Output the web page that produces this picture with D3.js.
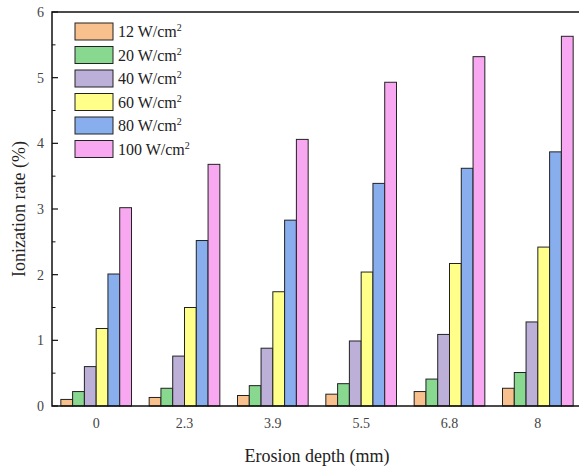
<!DOCTYPE html>
<html>
<head>
<meta charset="utf-8">
<script src="https://cdn.jsdelivr.net/npm/d3@7"></script>
<style>
  html, body { margin: 0; padding: 0; background: #fff; }
  svg { display: block; font-family: "Liberation Serif", "Times New Roman", serif; }
</style>
</head>
<body>
<div id="chart"></div>
<script>
// --- DATA ---
const depths = ["0", "2.3", "3.9", "5.5", "6.8", "8"];
const powers = ["12", "20", "40", "60", "80", "100"];
const rate12  = [0.10, 0.13, 0.16, 0.18, 0.22, 0.27];
const rate20  = [0.22, 0.27, 0.31, 0.34, 0.41, 0.51];
const rate40  = [0.60, 0.76, 0.88, 0.99, 1.09, 1.28];
const rate60  = [1.18, 1.50, 1.74, 2.04, 2.17, 2.42];
const rate80  = [2.01, 2.52, 2.83, 3.39, 3.62, 3.87];
const rate100 = [3.02, 3.68, 4.06, 4.93, 5.32, 5.63];
const yTicks = [0, 1, 2, 3, 4, 5, 6];
const colors = ["#f8c08c", "#88d890", "#bdb0d8", "#ffff8a", "#88aeee", "#f8a8f0"];

const series = [rate12, rate20, rate40, rate60, rate80, rate100];

// --- LAYOUT ---
const W = 579, H = 470;
const margin = {top: 12, right: -3, bottom: 64, left: 52};
const innerW = W - margin.left - margin.right;
const innerH = H - margin.top - margin.bottom;

const svg = d3.select("#chart").append("svg")
    .attr("width", W)
    .attr("height", H);

const g = svg.append("g")
    .attr("transform", `translate(${margin.left},${margin.top})`);

const x0 = d3.scaleBand()
    .domain(depths)
    .range([0, innerW])
    .paddingInner(0.2)
    .paddingOuter(0.1);

const x1 = d3.scaleBand()
    .domain(powers)
    .range([0, x0.bandwidth()]);

const y = d3.scaleLinear()
    .domain([0, 6])
    .range([innerH, 0]);

// --- BARS ---
const groups = g.selectAll(".grp")
    .data(depths)
    .join("g")
    .attr("class", "grp")
    .attr("transform", d => `translate(${x0(d)},0)`);

groups.selectAll("rect")
    .data((d, i) => powers.map((p, j) => ({p, v: series[j][i], c: colors[j]})))
    .join("rect")
    .attr("x", d => x1(d.p))
    .attr("y", d => y(d.v))
    .attr("width", x1.bandwidth())
    .attr("height", d => y(0) - y(d.v))
    .attr("fill", d => d.c)
    .attr("stroke", "#222")
    .attr("stroke-width", 1);

// --- AXES ---
// frame (left, top, bottom; the right side falls outside the picture)
g.append("path")
    .attr("d", `M${innerW},0H0V${innerH}H${innerW}`)
    .attr("fill", "none")
    .attr("stroke", "#111")
    .attr("stroke-width", 1.5);

const yAxis = g.append("g")
    .call(d3.axisLeft(y).tickValues(yTicks).tickSize(0).tickPadding(8).tickFormat(d3.format("d")));
yAxis.select(".domain").remove();
yAxis.selectAll("text").attr("font-size", 14).attr("fill", "#444")
    .attr("font-family", "Liberation Serif, serif");

// inward major and minor ticks
g.selectAll(".majTick")
    .data(yTicks)
    .join("line")
    .attr("x1", 0).attr("x2", 6)
    .attr("y1", d => y(d)).attr("y2", d => y(d))
    .attr("stroke", "#111").attr("stroke-width", 1.2);

g.selectAll(".minTick")
    .data(yTicks.slice(0, -1).map(d => d + 0.5))
    .join("line")
    .attr("x1", 0).attr("x2", 3.5)
    .attr("y1", d => y(d)).attr("y2", d => y(d))
    .attr("stroke", "#111").attr("stroke-width", 1);

const xAxis = g.append("g")
    .attr("transform", `translate(0,${innerH})`)
    .call(d3.axisBottom(x0).tickSize(0).tickPadding(12));
xAxis.select(".domain").remove();
xAxis.selectAll("text").attr("font-size", 14).attr("fill", "#444")
    .attr("font-family", "Liberation Serif, serif");

// axis titles
svg.append("text")
    .attr("x", margin.left + x0("5.5") - x0.step() * 0.1)
    .attr("y", 462)
    .attr("text-anchor", "middle")
    .attr("font-size", 18)
    .attr("fill", "#222")
    .text("Erosion depth (mm)");

svg.append("text")
    .attr("transform", `translate(25,${margin.top + innerH / 2}) rotate(-90)`)
    .attr("text-anchor", "middle")
    .attr("font-size", 18)
    .attr("fill", "#222")
    .text("Ionization rate (%)");

// --- LEGEND ---
const legend = svg.append("g")
    .attr("transform", "translate(75,23)");

const item = legend.selectAll(".leg")
    .data(powers)
    .join("g")
    .attr("class", "leg")
    .attr("transform", (d, i) => `translate(0,${i * 23.5})`);

item.append("rect")
    .attr("width", 38).attr("height", 17)
    .attr("fill", (d, i) => colors[i])
    .attr("stroke", "#222").attr("stroke-width", 1);

const lt = item.append("text")
    .attr("x", 43).attr("y", 14)
    .attr("font-size", 16)
    .attr("fill", "#222");
lt.append("tspan").text(d => `${d} W/cm`);
lt.append("tspan").attr("dy", -6).attr("font-size", 10).text("2");
</script>
</body>
</html>
